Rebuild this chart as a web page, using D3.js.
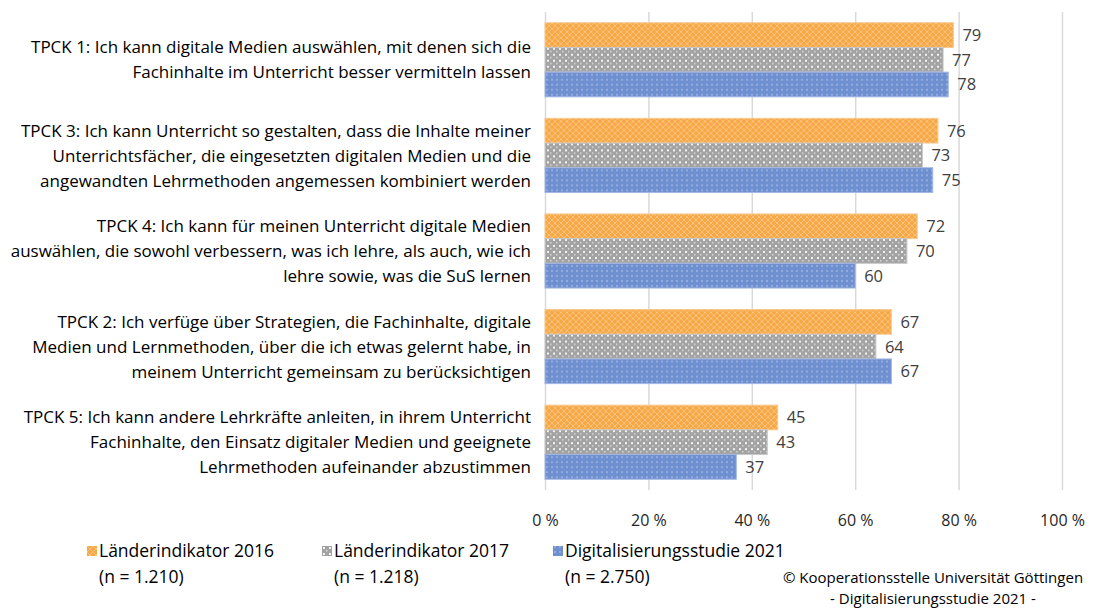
<!DOCTYPE html>
<html>
<head>
<meta charset="utf-8">
<script src="https://cdn.jsdelivr.net/npm/d3@7"></script>
<style>
  body { margin: 0; background: #fff; }
  text { font-family: "Open Sans", sans-serif; }
</style>
</head>
<body>
<div id="chart"></div>
<script>
let width = 1106, height = 610

// DATA
let categories = [
  ['TPCK 1: Ich kann digitale Medien auswählen, mit denen sich die', 'Fachinhalte im Unterricht besser vermitteln lassen'],
  ['TPCK 3: Ich kann Unterricht so gestalten, dass die Inhalte meiner', 'Unterrichtsfächer, die eingesetzten digitalen Medien und die', 'angewandten Lehrmethoden angemessen kombiniert werden'],
  ['TPCK 4: Ich kann für meinen Unterricht digitale Medien', 'auswählen, die sowohl verbessern, was ich lehre, als auch, wie ich', 'lehre sowie, was die SuS lernen'],
  ['TPCK 2: Ich verfüge über Strategien, die Fachinhalte, digitale', 'Medien und Lernmethoden, über die ich etwas gelernt habe, in', 'meinem Unterricht gemeinsam zu berücksichtigen'],
  ['TPCK 5: Ich kann andere Lehrkräfte anleiten, in ihrem Unterricht', 'Fachinhalte, den Einsatz digitaler Medien und geeignete', 'Lehrmethoden aufeinander abzustimmen']
]
let seriesNames = ['Länderindikator 2016', 'Länderindikator 2017', 'Digitalisierungsstudie 2021']
let seriesN = ['(n = 1.210)', '(n = 1.218)', '(n = 2.750)']
let values2016 = [79, 76, 72, 67, 45]
let values2017 = [77, 73, 70, 64, 43]
let values2021 = [78, 75, 60, 67, 37]
let ticks = [0, 20, 40, 60, 80, 100]
let credits = ['© Kooperationsstelle Universität Göttingen', '- Digitalisierungsstudie 2021 -']

let allValues = [values2016, values2017, values2021]

let svg = d3.select('#chart')
  .append('svg')
  .attr('width', width)
  .attr('height', height)

// PATTERNS
let defs = svg.append('defs')

let pOrange = defs.append('pattern')
  .attr('id', 'pat0').attr('patternUnits', 'userSpaceOnUse')
  .attr('width', 6).attr('height', 6)
pOrange.append('rect').attr('width', 6).attr('height', 6).attr('fill', '#f6a845')
pOrange.append('path').attr('d', 'M0,0L6,6M6,0L0,6')
  .attr('stroke', '#f9c27f').attr('stroke-width', 1)

let pGray = defs.append('pattern')
  .attr('id', 'pat1').attr('patternUnits', 'userSpaceOnUse')
  .attr('width', 6).attr('height', 6)
pGray.append('rect').attr('width', 6).attr('height', 6).attr('fill', '#a3a3a3')
pGray.append('rect').attr('x', 1).attr('y', 1).attr('width', 2).attr('height', 2).attr('fill', '#f2f2f2')
pGray.append('rect').attr('x', 4).attr('y', 4).attr('width', 1.5).attr('height', 1.5).attr('fill', '#d8d8d8')

let pBlue = defs.append('pattern')
  .attr('id', 'pat2').attr('patternUnits', 'userSpaceOnUse')
  .attr('width', 5).attr('height', 5)
pBlue.append('rect').attr('width', 5).attr('height', 5).attr('fill', '#6e8fd0')
pBlue.append('rect').attr('x', 1).attr('y', 1).attr('width', 2).attr('height', 2).attr('fill', '#93abdc')

let strokes = ['#f9c88e', '#c8c8c8', '#a3b7e2']

// SCALES
let x = d3.scaleLinear()
  .domain([0, 100])
  .range([545, 1062])

let y = d3.scaleBand()
  .domain(d3.range(categories.length))
  .range([12, 490])
  .paddingInner(0.225)
  .paddingOuter(0.1125)

let ySub = d3.scaleBand()
  .domain(d3.range(seriesNames.length))
  .range([0, y.bandwidth()])

// GRID LINES
let grid = svg.append('g')
  .attr('transform', 'translate(0,490)')
  .call(d3.axisBottom(x)
    .tickValues(ticks)
    .tickSize(-478)
    .tickFormat(d => d + ' %'))

grid.select('.domain').remove()
grid.selectAll('.tick line').attr('stroke', '#d9d9d9').attr('stroke-width', 1.5)
grid.selectAll('.tick text')
  .attr('y', 25)
  .attr('fill', '#262626')
  .style('font-size', '16px')
  .style('font-family', '"Open Sans", sans-serif')

// BARS
let groups = svg.selectAll('.group')
  .data(categories)
  .enter().append('g')
  .attr('class', 'group')
  .attr('transform', (d, i) => 'translate(0,' + y(i) + ')')

allValues.forEach(function (vals, s) {
  groups.append('rect')
    .attr('x', x(0))
    .attr('y', ySub(s))
    .attr('width', (d, i) => x(vals[i]) - x(0))
    .attr('height', ySub.bandwidth())
    .attr('fill', 'url(#pat' + s + ')')
    .attr('stroke', strokes[s])
    .attr('stroke-width', 1)

  groups.append('text')
    .attr('x', (d, i) => x(vals[i]) + 9)
    .attr('y', ySub(s) + ySub.bandwidth() / 2)
    .attr('dy', '0.36em')
    .attr('fill', '#404040')
    .style('font-size', '16.5px')
    .text((d, i) => vals[i])
})

// CATEGORY LABELS
groups.each(function (lines) {
  let g = d3.select(this)
  let mid = y.bandwidth() / 2
  lines.forEach(function (line, k) {
    g.append('text')
      .attr('x', 531)
      .attr('y', mid + (k - (lines.length - 1) / 2) * 25)
      .attr('dy', '0.36em')
      .attr('text-anchor', 'end')
      .attr('fill', '#000')
      .style('font-size', '17px')
      .text(line)
  })
})

// LEGEND
let legendX = [87, 322, 553]
let legend = svg.selectAll('.legend')
  .data(seriesNames)
  .enter().append('g')
  .attr('class', 'legend')
  .attr('transform', (d, i) => 'translate(' + legendX[i] + ',0)')

legend.append('rect')
  .attr('x', 0).attr('y', 546)
  .attr('width', 10).attr('height', 10)
  .attr('fill', (d, i) => 'url(#pat' + i + ')')

legend.append('text')
  .attr('x', 12).attr('y', 551)
  .attr('dy', '0.36em')
  .style('font-size', '17.5px')
  .attr('fill', '#000')
  .text(d => d)

legend.append('text')
  .attr('x', 12).attr('y', 577)
  .attr('dy', '0.36em')
  .style('font-size', '17.5px')
  .attr('fill', '#000')
  .text((d, i) => seriesN[i])

// CREDITS
svg.selectAll('.credit')
  .data(credits)
  .enter().append('text')
  .attr('class', 'credit')
  .attr('x', 933)
  .attr('y', (d, i) => 578 + i * 21)
  .attr('dy', '0.36em')
  .attr('text-anchor', 'middle')
  .style('font-size', '15px')
  .attr('fill', '#000')
  .text(d => d)
</script>
</body>
</html>
